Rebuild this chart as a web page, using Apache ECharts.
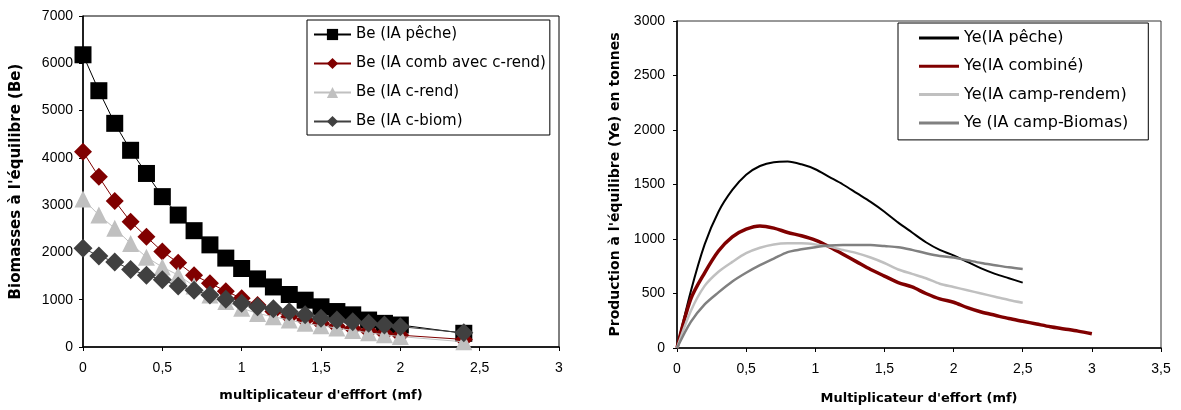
<!DOCTYPE html>
<html>
<head>
<meta charset="utf-8">
<script src="https://cdn.jsdelivr.net/npm/echarts@6/dist/echarts.min.js"></script>
<style>
html,body{margin:0;padding:0;background:#fff;}
#c{width:1181px;height:410px;}
</style>
</head>
<body>
<div id="c"></div>
<script>
// ---- Left chart data: Biomasses à l'équilibre (Be) ----
var mfLeft = [0,0.1,0.2,0.3,0.4,0.5,0.6,0.7,0.8,0.9,1.0,1.1,1.2,1.3,1.4,1.5,1.6,1.7,1.8,1.9,2.0,2.4];
var beBlackPeche = [6180,5420,4730,4160,3670,3180,2790,2460,2160,1880,1660,1440,1270,1110,990,850,750,680,570,500,465,290];
var beRedComb    = [4130,3600,3090,2650,2330,2020,1780,1520,1350,1180,1030,890,750,640,570,500,440,390,340,290,250,160];
var beLightRend  = [3130,2790,2510,2190,1900,1690,1520,1290,1100,960,820,710,640,570,500,450,400,350,300,260,220,110];
var beDarkBiom   = [2090,1925,1800,1640,1520,1420,1290,1200,1100,1010,925,850,810,745,680,610,570,535,500,465,430,300];
var leftNames = ['Be (IA pêche)','Be (IA comb avec c-rend)','Be (IA c-rend)','Be (IA c-biom)'];

// ---- Right chart data: Production à l'équilibre (Ye) ----
var mfRight25 = [0,0.1,0.2,0.3,0.4,0.5,0.6,0.7,0.8,0.9,1.0,1.1,1.2,1.3,1.4,1.5,1.6,1.7,1.8,1.9,2.0,2.1,2.2,2.3,2.4,2.5];
var mfRight30 = [0,0.1,0.2,0.3,0.4,0.5,0.6,0.7,0.8,0.9,1.0,1.1,1.2,1.3,1.4,1.5,1.6,1.7,1.8,1.9,2.0,2.1,2.2,2.3,2.4,2.5,2.6,2.7,2.8,2.9,3.0];
var yePeche   = [0,520,950,1250,1450,1590,1670,1705,1710,1685,1640,1570,1500,1420,1340,1250,1150,1060,970,900,850,790,730,680,640,600];
var yeCombine = [0,450,690,890,1020,1090,1120,1100,1060,1030,990,930,860,790,720,660,600,560,500,450,420,370,330,300,270,245,220,195,175,155,130];
var yeRendem  = [0,340,570,700,790,870,920,950,960,960,950,930,900,870,830,780,720,680,640,590,560,530,500,470,440,415];
var yeBiomas  = [0,240,400,510,610,690,760,820,880,905,925,940,945,945,945,935,925,900,870,845,830,805,780,760,740,725];
var rightNames = ['Ye(IA pêche)','Ye(IA combiné)','Ye(IA camp-rendem)','Ye (IA camp-Biomas)'];

function pairs(xs, ys){ return ys.map(function(v,i){ return [xs[i], v]; }); }
function commaFmt(v){ return String(v).replace('.', ','); }
function plainFmt(v){ return String(v); }

var FONT = 'Liberation Sans, Arial, sans-serif';
var WIDE = 'DejaVu Sans, Verdana, sans-serif';

var chart = echarts.init(document.getElementById('c'), null, {renderer:'canvas'});

function axisCommon(){
  return {
    axisLine:{show:true,lineStyle:{color:'#000',width:1.5}},
    axisTick:{show:true,length:4,lineStyle:{color:'#000',width:1}},
    splitLine:{show:false},
    axisLabel:{color:'#000',fontFamily:FONT,fontSize:14},
    nameTextStyle:{color:'#000',fontFamily:WIDE,fontSize:13,fontWeight:'bold'}
  };
}

var xL = Object.assign(axisCommon(), {type:'value',gridIndex:0,min:0,max:3,interval:0.5,
  name:"multiplicateur d'efffort (mf)",nameLocation:'middle',nameGap:42});
xL.axisLabel = Object.assign({}, xL.axisLabel, {margin:14, formatter:commaFmt});
var yL = Object.assign(axisCommon(), {type:'value',gridIndex:0,min:0,max:7000,interval:1000,
  name:"Biomasses à l'équilibre (Be)",nameLocation:'middle',nameGap:59,nameRotate:90});
yL.axisLabel = Object.assign({}, yL.axisLabel, {margin:10, formatter:plainFmt});
yL.nameTextStyle = Object.assign({}, yL.nameTextStyle, {fontSize:15});

var xR = Object.assign(axisCommon(), {type:'value',gridIndex:1,min:0,max:3.5,interval:0.5,
  name:"Multiplicateur d'effort (mf)",nameLocation:'middle',nameGap:44});
xR.axisLabel = Object.assign({}, xR.axisLabel, {margin:14, formatter:commaFmt});
var yR = Object.assign(axisCommon(), {type:'value',gridIndex:1,min:0,max:3000,interval:500,
  name:"Production à l'équilibre (Ye) en tonnes",nameLocation:'middle',nameGap:55,nameRotate:90});
yR.axisLabel = Object.assign({}, yR.axisLabel, {margin:12, formatter:plainFmt});
yR.nameTextStyle = Object.assign({}, yR.nameTextStyle, {fontSize:14});

var leftColors = ['#000000','#800000','#c0c0c0','#404040'];
var leftSymbols = ['rect','diamond','triangle','diamond'];
var leftSizes = [17,18,17,19];
var leftData = [beBlackPeche, beRedComb, beLightRend, beDarkBiom];

var rightColors = ['#000000','#800000','#c0c0c0','#808080'];
var rightWidths = [2,3.5,2.5,2.5];
var rightData = [[mfRight25,yePeche],[mfRight30,yeCombine],[mfRight25,yeRendem],[mfRight25,yeBiomas]];

var series = [];
leftData.forEach(function(d,i){
  series.push({
    name:leftNames[i], type:'line', xAxisIndex:0, yAxisIndex:0,
    data:pairs(mfLeft,d), symbol:leftSymbols[i], symbolSize:leftSizes[i],
    lineStyle:{color:leftColors[i],width:1}, itemStyle:{color:leftColors[i]},
    animation:false, z:2+i
  });
});
rightData.forEach(function(d,i){
  series.push({
    name:rightNames[i], type:'line', xAxisIndex:1, yAxisIndex:1,
    data:pairs(d[0],d[1]), symbol:'none', smooth:0.3,
    lineStyle:{color:rightColors[i],width:rightWidths[i]}, itemStyle:{color:rightColors[i]},
    animation:false, z:2+i
  });
});

var legendBase = {
  orient:'vertical', backgroundColor:'#fff', borderColor:'#000', borderWidth:1,
  borderRadius:0
};

chart.setOption({
  animation:false,
  backgroundColor:'#fff',
  grid:[
    {left:83,right:622,top:16,bottom:63,show:true,borderColor:'#000',borderWidth:1,backgroundColor:'transparent'},
    {left:677,right:20,top:21,bottom:58,show:true,borderColor:'#333',borderWidth:1,backgroundColor:'transparent'}
  ],
  xAxis:[xL,xR],
  yAxis:[yL,yR],
  legend:[
    Object.assign({}, legendBase, {data:leftNames, left:307, top:20, itemWidth:37, itemHeight:14, itemGap:14,
      padding:[7,4,6,6], textStyle:{color:'#000',fontFamily:WIDE,fontSize:15,lineHeight:14}}),
    Object.assign({}, legendBase, {data:rightNames.map(function(n){return {name:n, icon:'rect'};}),
      left:898, top:23, itemWidth:40, itemHeight:3, itemGap:12.3,
      padding:[7,20,9,21], textStyle:{color:'#000',fontFamily:WIDE,fontSize:16,lineHeight:16}})
  ],
  series:series
});
</script>
</body>
</html>
